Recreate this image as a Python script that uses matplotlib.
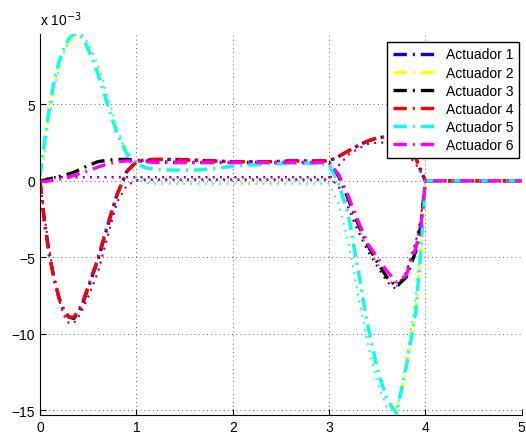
import matplotlib
matplotlib.use("Agg")
import matplotlib.pyplot as plt

plt.rcParams['font.family'] = ['Liberation Sans', 'DejaVu Sans']

# time samples (s)
t = [0, 0.05, 0.1, 0.15, 0.2, 0.25, 0.3, 0.35, 0.4, 0.45, 0.5, 0.6, 0.7, 0.8, 0.9,
     1.0, 1.1, 1.2, 1.4, 1.6, 1.8, 2.0, 2.2, 2.4, 2.6, 2.8, 3.0, 3.1, 3.2, 3.3,
     3.4, 3.5, 3.6, 3.7, 3.8, 3.9, 3.95, 4.0, 4.5, 5.0]

# actuator signals (x 1e-3), dash-dot curves
act1 = [0, -2.8, -4.9, -6.5, -7.7, -8.5, -8.9, -9.0, -8.6, -7.9, -7.0, -5.2, -3.0, -0.9, 0.6,
        1.25, 1.35, 1.4, 1.4, 1.35, 1.3, 1.25, 1.25, 1.25, 1.3, 1.3, 1.3, 1.6, 1.95, 2.3,
        2.6, 2.8, 2.9, 2.8, 2.3, 1.5, 0.7, 0, 0, 0]
act2 = [0.2, 2.6, 4.8, 6.5, 7.7, 8.6, 9.2, 9.5, 9.6, 9.3, 8.7, 7.1, 5.0, 3.2, 1.9,
        1.1, 0.85, 0.75, 0.7, 0.7, 0.8, 0.95, 1.05, 1.1, 1.15, 1.15, 1.05, -0.2, -2.2, -5.7,
        -9.3, -12.2, -14.2, -15.1, -12.3, -8.6, -4.9, 0, 0, 0]
act3 = [0, 0.05, 0.13, 0.2, 0.28, 0.36, 0.45, 0.55, 0.7, 0.85, 1.0, 1.25, 1.35, 1.4, 1.4,
        1.35, 1.3, 1.25, 1.2, 1.2, 1.2, 1.2, 1.2, 1.2, 1.2, 1.2, 1.2, 0.3, -1.2, -2.8,
        -4.2, -5.3, -6.3, -6.9, -6.3, -4.6, -3.0, 0, 0, 0]
act4 = [0, -2.9, -5.0, -6.5, -7.7, -8.5, -8.9, -8.9, -8.5, -7.8, -6.9, -5.1, -2.9, -0.9, 0.6,
        1.25, 1.4, 1.4, 1.4, 1.35, 1.3, 1.25, 1.25, 1.25, 1.3, 1.3, 1.3, 1.6, 1.95, 2.3,
        2.6, 2.8, 2.9, 2.8, 2.3, 1.5, 0.7, 0, 0, 0]
act5 = [0.3, 2.7, 4.9, 6.6, 7.8, 8.7, 9.3, 9.6, 9.6, 9.3, 8.6, 7.0, 5.0, 3.1, 1.8,
        1.1, 0.85, 0.75, 0.7, 0.7, 0.8, 0.95, 1.05, 1.1, 1.15, 1.15, 1.05, -0.2, -2.2, -5.8,
        -9.4, -12.3, -14.3, -15.2, -12.2, -8.6, -4.8, 0, 0, 0]
act6 = [0, -0.05, 0.0, 0.05, 0.1, 0.15, 0.25, 0.35, 0.45, 0.55, 0.65, 0.9, 1.1, 1.25, 1.3,
        1.3, 1.25, 1.2, 1.2, 1.2, 1.2, 1.2, 1.2, 1.2, 1.2, 1.2, 1.2, 0.4, -1.0, -2.6,
        -4.1, -5.0, -5.9, -6.6, -6.2, -4.4, -3.2, 0, 0, 0]

# dotted curves (reference)
ref1 = [0, -2.5, -4.6, -6.4, -7.8, -8.8, -9.3, -9.3, -8.9, -8.3, -7.6, -6.0, -3.7, -1.4, -0.3,
        0.05, 0.1, 0.1, 0.1, 0.1, 0.1, 0.1, 0.1, 0.1, 0.1, 0.1, 0.1, 1.0, 1.7, 2.1,
        2.4, 2.5, 2.5, 2.3, 1.8, 1.1, 0.6, 0, 0, 0]
ref2 = [0, 2.0, 4.3, 6.1, 7.4, 8.4, 9.1, 9.5, 9.6, 9.5, 9.0, 7.6, 5.6, 3.5, 1.6,
        0.2, -0.1, -0.15, -0.15, -0.15, -0.15, -0.15, -0.15, -0.15, -0.15, -0.15, -0.15, -1.5, -4.0, -7.4,
        -10.6, -13.2, -14.8, -15.0, -11.8, -7.6, -3.8, 0, 0, 0]
ref3 = [0, 0.1, 0.2, 0.25, 0.25, 0.25, 0.25, 0.25, 0.25, 0.25, 0.25, 0.25, 0.25, 0.25, 0.25,
        0.25, 0.25, 0.25, 0.25, 0.25, 0.25, 0.25, 0.25, 0.25, 0.25, 0.25, 0.25, -0.4, -1.8, -3.3,
        -4.6, -5.6, -6.6, -7.1, -6.0, -4.0, -2.5, 0, 0, 0]
ref4 = [0, -2.5, -4.6, -6.4, -7.8, -8.8, -9.3, -9.3, -8.9, -8.3, -7.6, -6.0, -3.7, -1.4, -0.3,
        0.0, 0.05, 0.05, 0.05, 0.05, 0.05, 0.05, 0.05, 0.05, 0.05, 0.05, 0.05, 1.0, 1.7, 2.1,
        2.4, 2.5, 2.5, 2.3, 1.8, 1.1, 0.6, 0, 0, 0]
ref5 = [0, 2.0, 4.3, 6.1, 7.4, 8.4, 9.1, 9.5, 9.6, 9.5, 9.0, 7.6, 5.6, 3.5, 1.6,
        0.2, -0.15, -0.2, -0.2, -0.2, -0.2, -0.2, -0.2, -0.2, -0.2, -0.2, -0.2, -1.5, -4.0, -7.4,
        -10.6, -13.2, -14.8, -15.0, -11.8, -7.6, -3.8, 0, 0, 0]
ref6 = [0, 0.05, 0.1, 0.15, 0.2, 0.2, 0.2, 0.2, 0.2, 0.2, 0.2, 0.2, 0.2, 0.2, 0.2,
        0.2, 0.2, 0.2, 0.2, 0.2, 0.2, 0.2, 0.2, 0.2, 0.2, 0.2, 0.2, -0.3, -1.6, -3.1,
        -4.4, -5.4, -6.4, -6.9, -5.9, -3.9, -2.5, 0, 0, 0]

labels = ['Actuador 1', 'Actuador 2', 'Actuador 3', 'Actuador 4', 'Actuador 5', 'Actuador 6']
colors = ['#0000ff', '#ffff00', '#000000', '#ff0000', '#00ffff', '#ff00ff']
acts = [act1, act2, act3, act4, act5, act6]
refs = [ref1, ref2, ref3, ref4, ref5, ref6]

fig = plt.figure(figsize=(5.26, 4.35), dpi=100)
ax = fig.add_axes([0.076, 0.0437, 0.916, 0.876])

for r, c in zip(refs, colors):
    ax.plot(t, r, color=c, linestyle=(0, (1, 3)), linewidth=1.3)
for a, c, lab in zip(acts, colors, labels):
    ax.plot(t, a, color=c, linestyle=(0, (4, 1.8, 0.6, 1.8)), linewidth=2.4, label=lab)

ax.set_xlim(0, 5)
ax.set_ylim(-15.3, 9.6)
ax.set_xticks([0, 1, 2, 3, 4, 5])
ax.set_yticks([-15, -10, -5, 0, 5])
ax.grid(True, color='#333333', linestyle=(0, (1, 4)), linewidth=0.6)
ax.spines['top'].set_visible(False)
ax.spines['right'].set_visible(False)
ax.tick_params(direction='in', labelsize=10, length=4)
ax.text(0, 1.015, 'x 10$^{-3}$', transform=ax.transAxes, fontsize=10, va='bottom', ha='left')

leg = ax.legend(loc='upper right', bbox_to_anchor=(0.994, 0.979), borderaxespad=0,
                fontsize=10, handlelength=3, labelspacing=0.3, fancybox=False,
                framealpha=1, edgecolor='black')
leg.get_frame().set_linewidth(1.0)

fig.savefig('out.png', dpi=100)
